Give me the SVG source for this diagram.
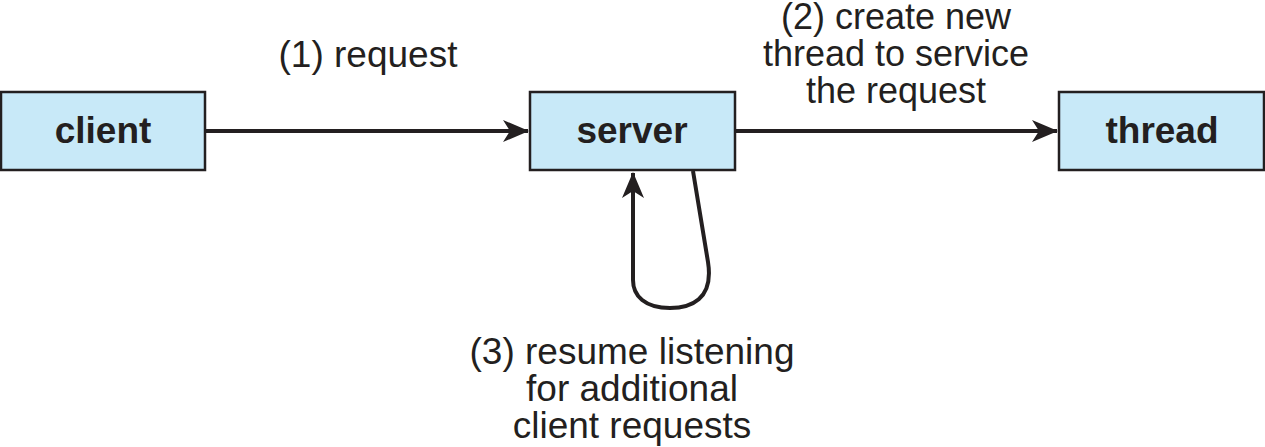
<svg xmlns="http://www.w3.org/2000/svg" width="1265" height="447" viewBox="0 0 1265 447">
<style>
.box{fill:#c8e9f8;stroke:#231f20;stroke-width:2.5}
.lbl{font-family:"Liberation Sans",Arial,sans-serif;font-size:37px;font-weight:bold;fill:#231f20;text-anchor:middle}
.txt{font-family:"Liberation Sans",Arial,sans-serif;font-size:37px;fill:#231f20;text-anchor:middle}
.sm{font-size:36px}
.conn{fill:none;stroke:#231f20;stroke-width:4}
</style>
<defs>
<marker id="ah" markerUnits="userSpaceOnUse" markerWidth="28" markerHeight="24" refX="25" refY="11" orient="auto" viewBox="0 0 28 24">
<path d="M0,0 L26,11 L0,22 L7,11 Z" fill="#231f20"/>
</marker>
</defs>
<rect width="1265" height="447" fill="#ffffff"/>
<g id="client">
<rect class="box" x="1" y="92" width="204" height="78"/>
<text class="lbl" x="103" y="143">client</text>
</g>
<g id="server">
<rect class="box" x="530" y="92" width="205" height="78"/>
<text class="lbl" x="632" y="143">server</text>
</g>
<g id="thread">
<rect class="box" x="1059" y="92" width="205" height="78"/>
<text class="lbl" x="1162" y="143">thread</text>
</g>
<g id="connectors">
<path class="conn" d="M206 131 L528 131" marker-end="url(#ah)"/>
<path class="conn" d="M736 131 L1057 131" marker-end="url(#ah)"/>
<path class="conn" d="M693 171 L708 262 C714 300 690 308 670 308 C645 308 633 296 633 280 L633 173" marker-end="url(#ah)"/>
</g>
<g id="labels">
<text class="txt" x="368" y="67">(1) request</text>
<text class="txt sm" x="896" y="29">(2) create new</text>
<text class="txt sm" x="896" y="66">thread to service</text>
<text class="txt sm" x="896" y="103">the request</text>
<text class="txt" x="632" y="364">(3) resume listening</text>
<text class="txt" x="632" y="401">for additional</text>
<text class="txt" x="632" y="438">client requests</text>
</g>
</svg>
